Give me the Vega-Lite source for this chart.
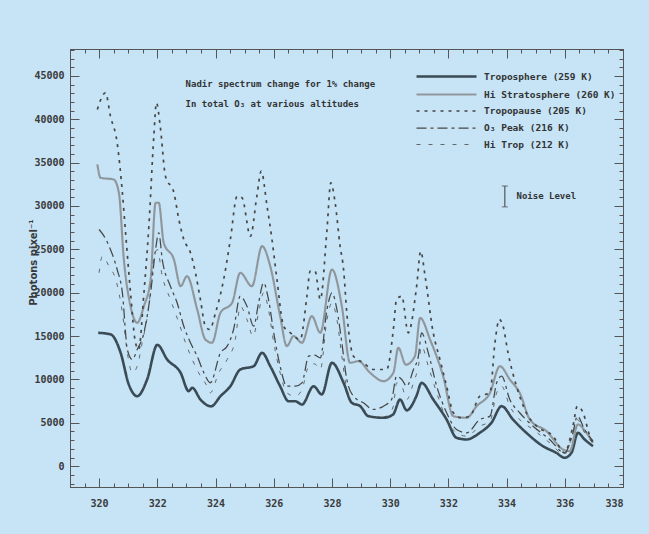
{
  "$schema": "https://vega.github.io/schema/vega-lite/v6.json",
  "width": 553,
  "height": 438,
  "autosize": "none",
  "padding": {"left": 70, "top": 49, "right": 26, "bottom": 47},
  "background": "#c6e4f6",
  "config": {
    "view": {"stroke": "#555555", "strokeWidth": 1},
    "axis": {"labelFont": "DejaVu Sans Mono", "labelFontSize": 10, "labelFontWeight": "bold", "labelColor": "#3a3a3a", "domainColor": "#555555", "tickColor": "#555555", "labelOverlap": false, "grid": false, "title": null}
  },
  "datasets": {
    "spec": [
      {"s":"Troposphere","w":319.97,"v":15380},{"s":"Troposphere","w":320.4,"v":15190},{"s":"Troposphere","w":320.74,"v":13070},{"s":"Troposphere","w":321.02,"v":9420},{"s":"Troposphere","w":321.31,"v":8070},{"s":"Troposphere","w":321.65,"v":10000},{"s":"Troposphere","w":322.0,"v":14000},{"s":"Troposphere","w":322.34,"v":12300},{"s":"Troposphere","w":322.8,"v":10770},{"s":"Troposphere","w":323.08,"v":8650},{"s":"Troposphere","w":323.2,"v":9040},{"s":"Troposphere","w":323.48,"v":7690},{"s":"Troposphere","w":323.85,"v":6900},{"s":"Troposphere","w":324.17,"v":8070},{"s":"Troposphere","w":324.51,"v":9220},{"s":"Troposphere","w":324.85,"v":11150},{"s":"Troposphere","w":325.31,"v":11530},{"s":"Troposphere","w":325.6,"v":13070},{"s":"Troposphere","w":325.88,"v":11530},{"s":"Troposphere","w":326.22,"v":9220},{"s":"Troposphere","w":326.51,"v":7490},{"s":"Troposphere","w":326.74,"v":7490},{"s":"Troposphere","w":326.97,"v":7110},{"s":"Troposphere","w":327.37,"v":9220},{"s":"Troposphere","w":327.65,"v":8270},{"s":"Troposphere","w":328.0,"v":11920},{"s":"Troposphere","w":328.4,"v":9610},{"s":"Troposphere","w":328.68,"v":7310},{"s":"Troposphere","w":328.97,"v":6920},{"s":"Troposphere","w":329.25,"v":5770},{"s":"Troposphere","w":329.77,"v":5580},{"s":"Troposphere","w":330.1,"v":5960},{"s":"Troposphere","w":330.34,"v":7690},{"s":"Troposphere","w":330.57,"v":6440},{"s":"Troposphere","w":330.9,"v":8070},{"s":"Troposphere","w":331.08,"v":9610},{"s":"Troposphere","w":331.48,"v":7690},{"s":"Troposphere","w":331.94,"v":5380},{"s":"Troposphere","w":332.28,"v":3270},{"s":"Troposphere","w":332.63,"v":3080},{"s":"Troposphere","w":333.08,"v":3850},{"s":"Troposphere","w":333.48,"v":5000},{"s":"Troposphere","w":333.83,"v":6920},{"s":"Troposphere","w":334.22,"v":5380},{"s":"Troposphere","w":334.68,"v":3850},{"s":"Troposphere","w":335.25,"v":2310},{"s":"Troposphere","w":335.71,"v":1540},{"s":"Troposphere","w":335.99,"v":970},{"s":"Troposphere","w":336.23,"v":1540},{"s":"Troposphere","w":336.45,"v":3850},{"s":"Troposphere","w":336.68,"v":3080},{"s":"Troposphere","w":336.97,"v":2310},

      {"s":"Hi Stratosphere","w":319.94,"v":34790},{"s":"Hi Stratosphere","w":320.05,"v":33250},{"s":"Hi Stratosphere","w":320.5,"v":33060},{"s":"Hi Stratosphere","w":320.68,"v":31520},{"s":"Hi Stratosphere","w":320.85,"v":23830},{"s":"Hi Stratosphere","w":321.08,"v":18450},{"s":"Hi Stratosphere","w":321.31,"v":16530},{"s":"Hi Stratosphere","w":321.54,"v":18450},{"s":"Hi Stratosphere","w":321.77,"v":21530},{"s":"Hi Stratosphere","w":321.94,"v":30370},{"s":"Hi Stratosphere","w":322.05,"v":30370},{"s":"Hi Stratosphere","w":322.22,"v":25760},{"s":"Hi Stratosphere","w":322.57,"v":23830},{"s":"Hi Stratosphere","w":322.8,"v":20750},{"s":"Hi Stratosphere","w":323.02,"v":21910},{"s":"Hi Stratosphere","w":323.37,"v":18070},{"s":"Hi Stratosphere","w":323.65,"v":14610},{"s":"Hi Stratosphere","w":323.88,"v":14230},{"s":"Hi Stratosphere","w":324.17,"v":17690},{"s":"Hi Stratosphere","w":324.57,"v":18840},{"s":"Hi Stratosphere","w":324.85,"v":22300},{"s":"Hi Stratosphere","w":325.25,"v":20750},{"s":"Hi Stratosphere","w":325.6,"v":25370},{"s":"Hi Stratosphere","w":325.88,"v":23060},{"s":"Hi Stratosphere","w":326.22,"v":17300},{"s":"Hi Stratosphere","w":326.45,"v":13840},{"s":"Hi Stratosphere","w":326.68,"v":14990},{"s":"Hi Stratosphere","w":326.97,"v":14230},{"s":"Hi Stratosphere","w":327.31,"v":17300},{"s":"Hi Stratosphere","w":327.6,"v":15380},{"s":"Hi Stratosphere","w":328.0,"v":22680},{"s":"Hi Stratosphere","w":328.34,"v":18450},{"s":"Hi Stratosphere","w":328.62,"v":11920},{"s":"Hi Stratosphere","w":328.91,"v":12110},{"s":"Hi Stratosphere","w":329.31,"v":10770},{"s":"Hi Stratosphere","w":329.77,"v":9800},{"s":"Hi Stratosphere","w":330.11,"v":10770},{"s":"Hi Stratosphere","w":330.28,"v":13650},{"s":"Hi Stratosphere","w":330.54,"v":11700},{"s":"Hi Stratosphere","w":330.85,"v":12680},{"s":"Hi Stratosphere","w":331.03,"v":17110},{"s":"Hi Stratosphere","w":331.37,"v":14610},{"s":"Hi Stratosphere","w":331.82,"v":10380},{"s":"Hi Stratosphere","w":332.17,"v":5770},{"s":"Hi Stratosphere","w":332.63,"v":5580},{"s":"Hi Stratosphere","w":332.97,"v":6920},{"s":"Hi Stratosphere","w":333.43,"v":8460},{"s":"Hi Stratosphere","w":333.77,"v":11530},{"s":"Hi Stratosphere","w":334.11,"v":10000},{"s":"Hi Stratosphere","w":334.45,"v":8460},{"s":"Hi Stratosphere","w":334.8,"v":5380},{"s":"Hi Stratosphere","w":335.37,"v":4040},{"s":"Hi Stratosphere","w":335.94,"v":1920},{"s":"Hi Stratosphere","w":336.17,"v":1730},{"s":"Hi Stratosphere","w":336.45,"v":4810},{"s":"Hi Stratosphere","w":336.74,"v":3850},{"s":"Hi Stratosphere","w":336.97,"v":2700},

      {"s":"Tropopause","w":319.94,"v":41130},{"s":"Tropopause","w":320.22,"v":43050},{"s":"Tropopause","w":320.39,"v":40360},{"s":"Tropopause","w":320.62,"v":37290},{"s":"Tropopause","w":320.8,"v":31520},{"s":"Tropopause","w":320.91,"v":26910},{"s":"Tropopause","w":321.08,"v":19990},{"s":"Tropopause","w":321.25,"v":14230},{"s":"Tropopause","w":321.36,"v":13450},{"s":"Tropopause","w":321.54,"v":19990},{"s":"Tropopause","w":321.71,"v":27670},{"s":"Tropopause","w":321.88,"v":38050},{"s":"Tropopause","w":321.97,"v":41900},{"s":"Tropopause","w":322.1,"v":39200},{"s":"Tropopause","w":322.28,"v":33440},{"s":"Tropopause","w":322.57,"v":31520},{"s":"Tropopause","w":322.74,"v":28440},{"s":"Tropopause","w":322.91,"v":26140},{"s":"Tropopause","w":323.14,"v":24600},{"s":"Tropopause","w":323.31,"v":22300},{"s":"Tropopause","w":323.48,"v":19220},{"s":"Tropopause","w":323.65,"v":16140},{"s":"Tropopause","w":323.8,"v":15760},{"s":"Tropopause","w":324.0,"v":17690},{"s":"Tropopause","w":324.28,"v":21530},{"s":"Tropopause","w":324.51,"v":26140},{"s":"Tropopause","w":324.74,"v":31130},{"s":"Tropopause","w":324.91,"v":30950},{"s":"Tropopause","w":325.2,"v":26520},{"s":"Tropopause","w":325.42,"v":31130},{"s":"Tropopause","w":325.57,"v":34010},{"s":"Tropopause","w":325.77,"v":29980},{"s":"Tropopause","w":325.94,"v":26140},{"s":"Tropopause","w":326.11,"v":21530},{"s":"Tropopause","w":326.34,"v":16140},{"s":"Tropopause","w":326.57,"v":15380},{"s":"Tropopause","w":326.91,"v":14610},{"s":"Tropopause","w":327.14,"v":19600},{"s":"Tropopause","w":327.25,"v":22480},{"s":"Tropopause","w":327.42,"v":22480},{"s":"Tropopause","w":327.6,"v":19220},{"s":"Tropopause","w":327.83,"v":27290},{"s":"Tropopause","w":327.96,"v":32680},{"s":"Tropopause","w":328.11,"v":30370},{"s":"Tropopause","w":328.28,"v":25370},{"s":"Tropopause","w":328.4,"v":22680},{"s":"Tropopause","w":328.51,"v":17690},{"s":"Tropopause","w":328.74,"v":12680},{"s":"Tropopause","w":329.08,"v":11920},{"s":"Tropopause","w":329.42,"v":11150},{"s":"Tropopause","w":329.88,"v":11150},{"s":"Tropopause","w":330.11,"v":15760},{"s":"Tropopause","w":330.22,"v":19220},{"s":"Tropopause","w":330.4,"v":19600},{"s":"Tropopause","w":330.62,"v":15380},{"s":"Tropopause","w":330.91,"v":20750},{"s":"Tropopause","w":331.05,"v":24790},{"s":"Tropopause","w":331.2,"v":21910},{"s":"Tropopause","w":331.48,"v":15380},{"s":"Tropopause","w":331.71,"v":12300},{"s":"Tropopause","w":331.94,"v":9220},{"s":"Tropopause","w":332.17,"v":6160},{"s":"Tropopause","w":332.45,"v":5580},{"s":"Tropopause","w":332.74,"v":5770},{"s":"Tropopause","w":333.08,"v":8070},{"s":"Tropopause","w":333.43,"v":8460},{"s":"Tropopause","w":333.6,"v":14230},{"s":"Tropopause","w":333.75,"v":16910},{"s":"Tropopause","w":333.88,"v":16140},{"s":"Tropopause","w":334.05,"v":13070},{"s":"Tropopause","w":334.34,"v":9220},{"s":"Tropopause","w":334.68,"v":6160},{"s":"Tropopause","w":335.03,"v":4610},{"s":"Tropopause","w":335.6,"v":3460},{"s":"Tropopause","w":335.99,"v":1540},{"s":"Tropopause","w":336.28,"v":4610},{"s":"Tropopause","w":336.43,"v":6920},{"s":"Tropopause","w":336.63,"v":6160},{"s":"Tropopause","w":336.86,"v":3460},{"s":"Tropopause","w":336.97,"v":2700},

      {"s":"O3 Peak","w":320.0,"v":27290},{"s":"O3 Peak","w":320.17,"v":26520},{"s":"O3 Peak","w":320.39,"v":24980},{"s":"O3 Peak","w":320.62,"v":22680},{"s":"O3 Peak","w":320.8,"v":19990},{"s":"O3 Peak","w":320.97,"v":13450},{"s":"O3 Peak","w":321.14,"v":12300},{"s":"O3 Peak","w":321.31,"v":13450},{"s":"O3 Peak","w":321.54,"v":15380},{"s":"O3 Peak","w":321.77,"v":19990},{"s":"O3 Peak","w":321.94,"v":24980},{"s":"O3 Peak","w":322.05,"v":26910},{"s":"O3 Peak","w":322.17,"v":23830},{"s":"O3 Peak","w":322.45,"v":20750},{"s":"O3 Peak","w":322.68,"v":18840},{"s":"O3 Peak","w":322.91,"v":16140},{"s":"O3 Peak","w":323.14,"v":14230},{"s":"O3 Peak","w":323.37,"v":12680},{"s":"O3 Peak","w":323.6,"v":10770},{"s":"O3 Peak","w":323.82,"v":9610},{"s":"O3 Peak","w":324.17,"v":13070},{"s":"O3 Peak","w":324.4,"v":13840},{"s":"O3 Peak","w":324.62,"v":15760},{"s":"O3 Peak","w":324.85,"v":19600},{"s":"O3 Peak","w":325.08,"v":18450},{"s":"O3 Peak","w":325.31,"v":16140},{"s":"O3 Peak","w":325.48,"v":18840},{"s":"O3 Peak","w":325.65,"v":21150},{"s":"O3 Peak","w":325.82,"v":19220},{"s":"O3 Peak","w":326.0,"v":15380},{"s":"O3 Peak","w":326.22,"v":11530},{"s":"O3 Peak","w":326.45,"v":9220},{"s":"O3 Peak","w":326.74,"v":9220},{"s":"O3 Peak","w":326.97,"v":9610},{"s":"O3 Peak","w":327.2,"v":12680},{"s":"O3 Peak","w":327.4,"v":12800},{"s":"O3 Peak","w":327.6,"v":12500},{"s":"O3 Peak","w":327.83,"v":18070},{"s":"O3 Peak","w":328.0,"v":19990},{"s":"O3 Peak","w":328.17,"v":18070},{"s":"O3 Peak","w":328.34,"v":14230},{"s":"O3 Peak","w":328.51,"v":10000},{"s":"O3 Peak","w":328.74,"v":8070},{"s":"O3 Peak","w":329.08,"v":7310},{"s":"O3 Peak","w":329.42,"v":6540},{"s":"O3 Peak","w":329.77,"v":6920},{"s":"O3 Peak","w":330.05,"v":7690},{"s":"O3 Peak","w":330.22,"v":10380},{"s":"O3 Peak","w":330.4,"v":10000},{"s":"O3 Peak","w":330.57,"v":9220},{"s":"O3 Peak","w":330.8,"v":11150},{"s":"O3 Peak","w":330.97,"v":12680},{"s":"O3 Peak","w":331.08,"v":15380},{"s":"O3 Peak","w":331.31,"v":13070},{"s":"O3 Peak","w":331.6,"v":9220},{"s":"O3 Peak","w":331.94,"v":6160},{"s":"O3 Peak","w":332.28,"v":4230},{"s":"O3 Peak","w":332.63,"v":3850},{"s":"O3 Peak","w":333.08,"v":5380},{"s":"O3 Peak","w":333.43,"v":5770},{"s":"O3 Peak","w":333.66,"v":9610},{"s":"O3 Peak","w":333.83,"v":10380},{"s":"O3 Peak","w":334.11,"v":7690},{"s":"O3 Peak","w":334.45,"v":6160},{"s":"O3 Peak","w":334.91,"v":4610},{"s":"O3 Peak","w":335.48,"v":3080},{"s":"O3 Peak","w":335.99,"v":1540},{"s":"O3 Peak","w":336.28,"v":3850},{"s":"O3 Peak","w":336.43,"v":5770},{"s":"O3 Peak","w":336.68,"v":4230},{"s":"O3 Peak","w":336.97,"v":2880},

      {"s":"Hi Trop","w":320.0,"v":22300},{"s":"Hi Trop","w":320.11,"v":24210},{"s":"Hi Trop","w":320.34,"v":23060},{"s":"Hi Trop","w":320.57,"v":21530},{"s":"Hi Trop","w":320.8,"v":17690},{"s":"Hi Trop","w":320.97,"v":13070},{"s":"Hi Trop","w":321.14,"v":10770},{"s":"Hi Trop","w":321.31,"v":11530},{"s":"Hi Trop","w":321.48,"v":14230},{"s":"Hi Trop","w":321.71,"v":18450},{"s":"Hi Trop","w":321.88,"v":23830},{"s":"Hi Trop","w":322.0,"v":24980},{"s":"Hi Trop","w":322.17,"v":21910},{"s":"Hi Trop","w":322.45,"v":19220},{"s":"Hi Trop","w":322.74,"v":16530},{"s":"Hi Trop","w":322.97,"v":14230},{"s":"Hi Trop","w":323.2,"v":12300},{"s":"Hi Trop","w":323.42,"v":10770},{"s":"Hi Trop","w":323.71,"v":9220},{"s":"Hi Trop","w":323.82,"v":8460},{"s":"Hi Trop","w":324.11,"v":10770},{"s":"Hi Trop","w":324.4,"v":12300},{"s":"Hi Trop","w":324.68,"v":14610},{"s":"Hi Trop","w":324.85,"v":18450},{"s":"Hi Trop","w":325.08,"v":16910},{"s":"Hi Trop","w":325.29,"v":14990},{"s":"Hi Trop","w":325.48,"v":17690},{"s":"Hi Trop","w":325.65,"v":19990},{"s":"Hi Trop","w":325.82,"v":18070},{"s":"Hi Trop","w":326.0,"v":14230},{"s":"Hi Trop","w":326.22,"v":10770},{"s":"Hi Trop","w":326.45,"v":8460},{"s":"Hi Trop","w":326.74,"v":8070},{"s":"Hi Trop","w":326.97,"v":8840},{"s":"Hi Trop","w":327.2,"v":11530},{"s":"Hi Trop","w":327.4,"v":11800},{"s":"Hi Trop","w":327.6,"v":11150},{"s":"Hi Trop","w":327.83,"v":16910},{"s":"Hi Trop","w":328.0,"v":18840},{"s":"Hi Trop","w":328.17,"v":16910},{"s":"Hi Trop","w":328.34,"v":12680},{"s":"Hi Trop","w":328.51,"v":8840},{"s":"Hi Trop","w":328.74,"v":7310},{"s":"Hi Trop","w":329.08,"v":6540},{"s":"Hi Trop","w":329.54,"v":5580},{"s":"Hi Trop","w":329.88,"v":5770},{"s":"Hi Trop","w":330.11,"v":6920},{"s":"Hi Trop","w":330.22,"v":9610},{"s":"Hi Trop","w":330.4,"v":9220},{"s":"Hi Trop","w":330.57,"v":7690},{"s":"Hi Trop","w":330.8,"v":9610},{"s":"Hi Trop","w":330.97,"v":11530},{"s":"Hi Trop","w":331.08,"v":13840},{"s":"Hi Trop","w":331.31,"v":11530},{"s":"Hi Trop","w":331.6,"v":8460},{"s":"Hi Trop","w":331.94,"v":5380},{"s":"Hi Trop","w":332.28,"v":3850},{"s":"Hi Trop","w":332.63,"v":3460},{"s":"Hi Trop","w":333.08,"v":4610},{"s":"Hi Trop","w":333.43,"v":5190},{"s":"Hi Trop","w":333.66,"v":8460},{"s":"Hi Trop","w":333.83,"v":9220},{"s":"Hi Trop","w":334.11,"v":6920},{"s":"Hi Trop","w":334.45,"v":5380},{"s":"Hi Trop","w":334.91,"v":4230},{"s":"Hi Trop","w":335.48,"v":2700},{"s":"Hi Trop","w":335.99,"v":1350},{"s":"Hi Trop","w":336.28,"v":3850},{"s":"Hi Trop","w":336.43,"v":5380},{"s":"Hi Trop","w":336.68,"v":3850},{"s":"Hi Trop","w":336.97,"v":2700}
    ]
  },
  "layer": [
    {
      "layer": [
        {
          "data": {"name": "spec"},
          "mark": {"type": "line", "strokeCap": "butt", "strokeJoin": "round", "interpolate": "monotone"},
          "encoding": {
            "x": {"field": "w", "type": "quantitative", "scale": {"domain": [319, 338], "nice": false, "zero": false},
              "axis": {"orient": "bottom", "labelOverlap": false, "values": [320, 322, 324, 326, 328, 330, 332, 334, 336, 338], "format": "d",
                "tickSize": -9, "labelPadding": 20}},
            "y": {"field": "v", "type": "quantitative", "scale": {"domain": [-2400, 48100], "nice": false, "zero": false},
              "axis": {"orient": "left", "labelOverlap": false, "values": [0, 5000, 10000, 15000, 20000, 25000, 30000, 35000, 40000, 45000], "format": "d",
                "tickSize": -9, "labelPadding": 15,
                "title": "Photons pixel⁻¹", "titleFont": "DejaVu Sans", "titleFontSize": 10, "titleFontWeight": "bold", "titleColor": "#3a3a3a",
                "titleAngle": -90, "titleX": -37, "titleY": 213, "titleAlign": "center", "titleBaseline": "middle"}},
            "color": {"field": "s", "type": "nominal",
              "scale": {"domain": ["Troposphere", "Hi Stratosphere", "Tropopause", "O3 Peak", "Hi Trop"], "range": ["#3b4b56", "#90979c", "#474747", "#474747", "#474747"]},
              "legend": {"orient": "none", "legendX": 365, "legendY": 16, "title": null, "symbolType": "M-3,0H3", "symbolSize": 400, "labelOffset": 26, "rowPadding": 1, "padding": 0,
                "labelFont": "DejaVu Sans Mono", "labelFontSize": 9.5, "labelFontWeight": "bold", "labelColor": "#333333", "labelLimit": 300,
                "labelExpr": "{'Troposphere': 'Troposphere (259 K)', 'Hi Stratosphere': 'Hi Stratosphere (260 K)', 'Tropopause': 'Tropopause (205 K)', 'O3 Peak': 'O₃ Peak (216 K)', 'Hi Trop': 'Hi Trop (212 K)'}[datum.label]"}},
            "strokeDash": {"field": "s", "type": "nominal",
              "scale": {"domain": ["Troposphere", "Hi Stratosphere", "Tropopause", "O3 Peak", "Hi Trop"], "range": [[1, 0], [1, 0], [3, 5], [10, 4, 3, 4], [4, 8]]}},
            "strokeWidth": {"field": "s", "type": "nominal",
              "scale": {"domain": ["Troposphere", "Hi Stratosphere", "Tropopause", "O3 Peak", "Hi Trop"], "range": [2.6, 0.8, 1.6, 1.5, 1.4]}}
          }
        },
        {
          "data": {"values": [{}]},
          "mark": {"type": "text", "align": "left", "baseline": "middle", "font": "DejaVu Sans Mono", "fontSize": 9, "fontWeight": "bold", "color": "#333333"},
          "encoding": {"x": {"datum": 322.97, "type": "quantitative"}, "y": {"datum": 44120, "type": "quantitative"}, "text": {"value": "Nadir spectrum change for 1% change"}}
        },
        {
          "data": {"values": [{}]},
          "mark": {"type": "text", "align": "left", "baseline": "middle", "font": "DejaVu Sans Mono", "fontSize": 9, "fontWeight": "bold", "color": "#333333"},
          "encoding": {"x": {"datum": 322.97, "type": "quantitative"}, "y": {"datum": 41810, "type": "quantitative"}, "text": {"value": "In total O₃ at various altitudes"}}
        },
        {
          "data": {"values": [{}]},
          "mark": {"type": "text", "align": "left", "baseline": "middle", "font": "DejaVu Sans Mono", "fontSize": 9, "fontWeight": "bold", "color": "#333333"},
          "encoding": {"x": {"datum": 334.34, "type": "quantitative"}, "y": {"datum": 31100, "type": "quantitative"}, "text": {"value": "Noise Level"}}
        },
        {
          "data": {"values": [{}]},
          "mark": {"type": "rule", "color": "#555555", "strokeWidth": 1.2},
          "encoding": {"x": {"datum": 333.94, "type": "quantitative"}, "y": {"datum": 29900, "type": "quantitative"}, "y2": {"datum": 32300}}
        },
        {
          "data": {"values": [{"nv": 29900}, {"nv": 32300}]},
          "mark": {"type": "tick", "orient": "horizontal", "size": 6, "thickness": 1.2, "color": "#555555"},
          "encoding": {"x": {"datum": 333.94, "type": "quantitative"}, "y": {"field": "nv", "type": "quantitative"}}
        }
      ]
    },
    {
      "data": {"values": [{}]},
      "mark": {"type": "rule", "opacity": 0},
      "encoding": {
        "x": {"datum": 330, "type": "quantitative",
          "axis": {"orient": "bottom", "labels": false, "labelOverlap": false, "tickSize": -4, "values": [319,319.5,320.5,321,321.5,322.5,323,323.5,324.5,325,325.5,326.5,327,327.5,328.5,329,329.5,330.5,331,331.5,332.5,333,333.5,334.5,335,335.5,336.5,337,337.5]}},
        "y": {"datum": 0, "type": "quantitative",
          "axis": {"orient": "left", "labels": false, "labelOverlap": false, "tickSize": -4, "values": [-2000,-1000,1000,2000,3000,4000,6000,7000,8000,9000,11000,12000,13000,14000,16000,17000,18000,19000,21000,22000,23000,24000,26000,27000,28000,29000,31000,32000,33000,34000,36000,37000,38000,39000,41000,42000,43000,44000,46000,47000,48000]}}
      }
    },
    {
      "data": {"values": [{}]},
      "mark": {"type": "rule", "opacity": 0},
      "encoding": {
        "x": {"datum": 330, "type": "quantitative",
          "axis": {"orient": "top", "labels": false, "tickSize": -9, "values": [320, 322, 324, 326, 328, 330, 332, 334, 336, 338]}},
        "y": {"datum": 0, "type": "quantitative",
          "axis": {"orient": "right", "labels": false, "tickSize": -9, "values": [0, 5000, 10000, 15000, 20000, 25000, 30000, 35000, 40000, 45000]}}
      }
    },
    {
      "data": {"values": [{}]},
      "mark": {"type": "rule", "opacity": 0},
      "encoding": {
        "x": {"datum": 330, "type": "quantitative",
          "axis": {"orient": "top", "labels": false, "labelOverlap": false, "tickSize": -4, "values": [319,319.5,320.5,321,321.5,322.5,323,323.5,324.5,325,325.5,326.5,327,327.5,328.5,329,329.5,330.5,331,331.5,332.5,333,333.5,334.5,335,335.5,336.5,337,337.5]}},
        "y": {"datum": 0, "type": "quantitative",
          "axis": {"orient": "right", "labels": false, "labelOverlap": false, "tickSize": -4, "values": [-2000,-1000,1000,2000,3000,4000,6000,7000,8000,9000,11000,12000,13000,14000,16000,17000,18000,19000,21000,22000,23000,24000,26000,27000,28000,29000,31000,32000,33000,34000,36000,37000,38000,39000,41000,42000,43000,44000,46000,47000,48000]}}
      }
    }
  ],
  "resolve": {"axis": {"x": "independent", "y": "independent"}}
}
